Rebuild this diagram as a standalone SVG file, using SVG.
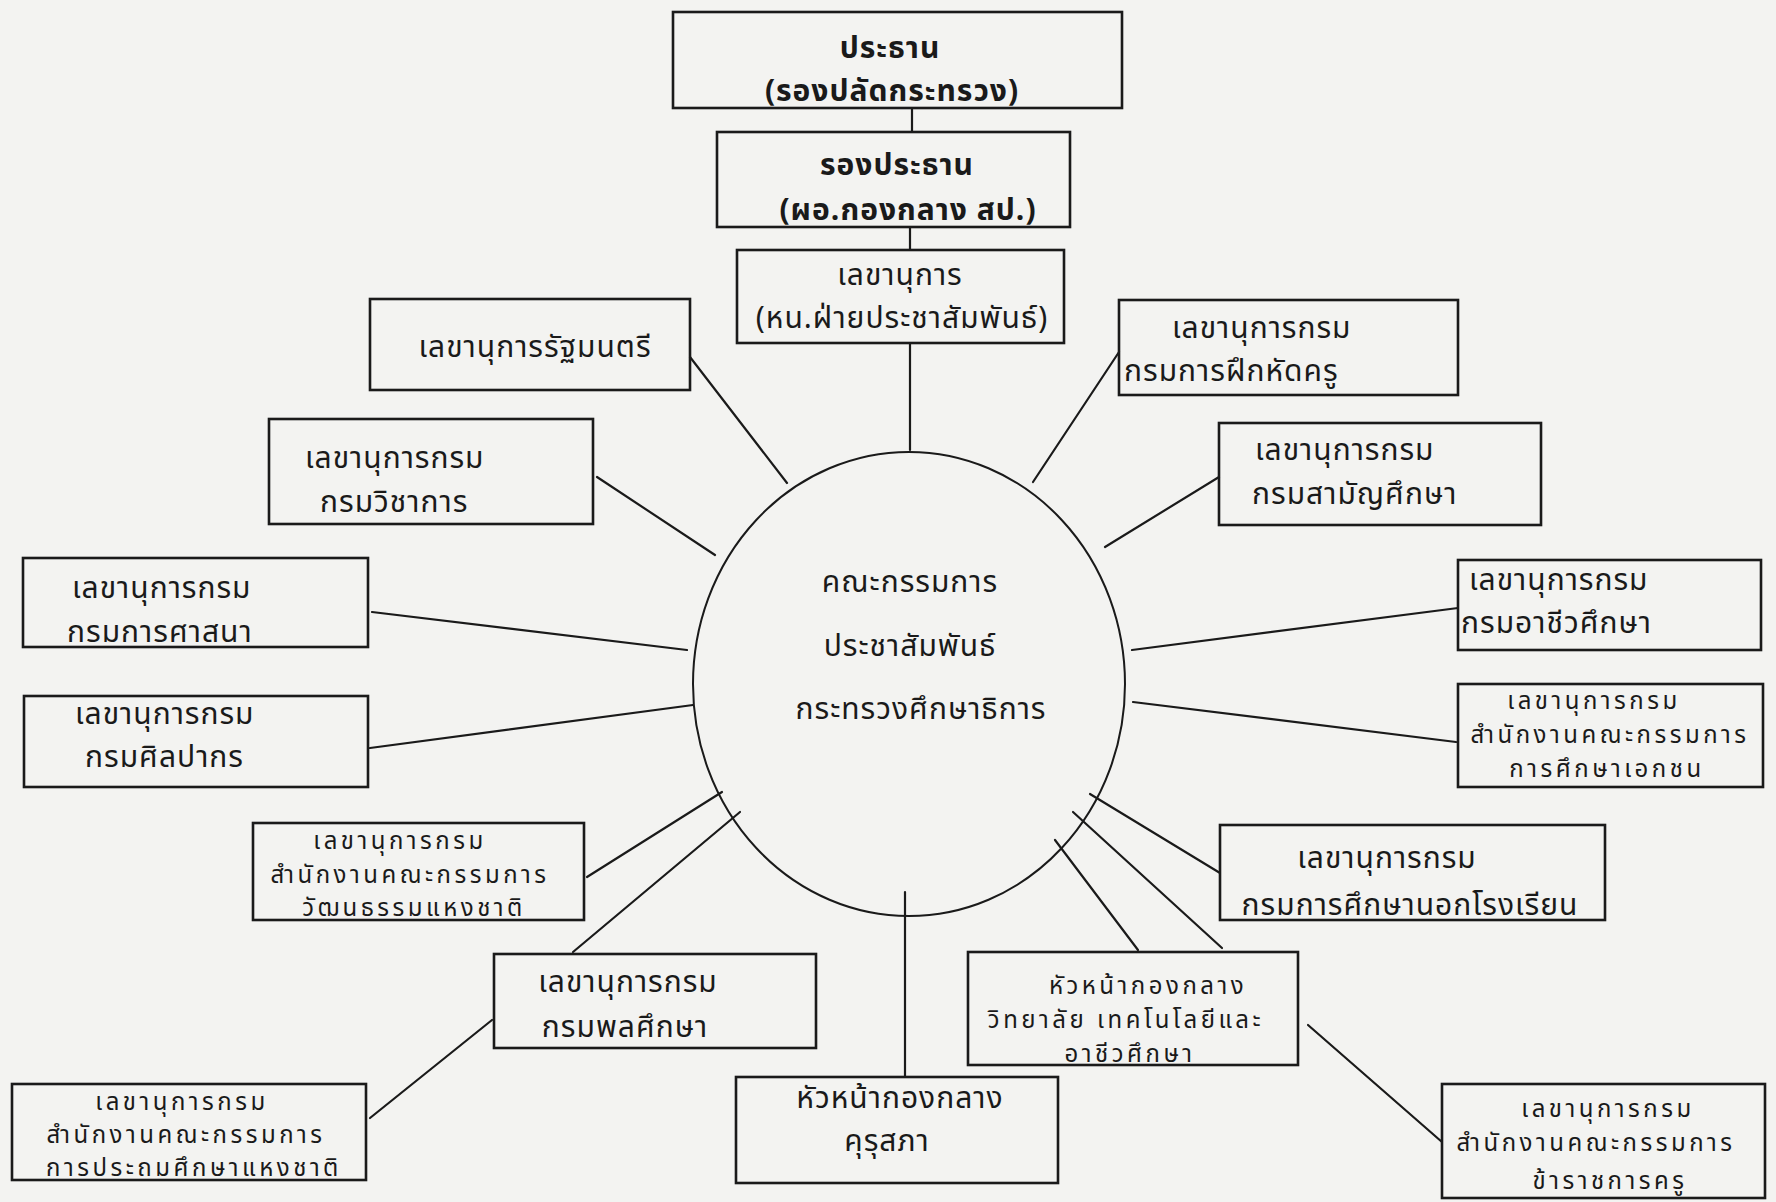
<svg xmlns="http://www.w3.org/2000/svg" width="1776" height="1202" viewBox="0 0 1776 1202">
<style>
.bx{fill:none;stroke:#1a1a1a;stroke-width:2.6}
.t{font-family:"Noto Sans Thai","Noto Sans","DejaVu Sans",sans-serif;font-size:30px;fill:#1a1a1a;letter-spacing:1px}
.s{font-size:24px;letter-spacing:3.5px}
.m{text-anchor:middle}
.b{font-weight:bold}
.cn{stroke:#1a1a1a;stroke-width:2.2;fill:none;stroke-linecap:round}
</style>
<rect x="0" y="0" width="1776" height="1202" fill="#f3f3f1"/>
<g id="connectors">
<line class="cn" x1="912" y1="108" x2="912" y2="132"/>
<line class="cn" x1="910" y1="227" x2="910" y2="250"/>
<line class="cn" x1="910" y1="343" x2="910" y2="450"/>
<line class="cn" x1="690" y1="357" x2="787" y2="483"/>
<line class="cn" x1="597" y1="477" x2="715" y2="555"/>
<line class="cn" x1="372" y1="612" x2="687" y2="650"/>
<line class="cn" x1="370" y1="748" x2="693" y2="705"/>
<line class="cn" x1="587" y1="877" x2="722" y2="792"/>
<line class="cn" x1="573" y1="952" x2="740" y2="812"/>
<line class="cn" x1="370" y1="1118" x2="492" y2="1020"/>
<line class="cn" x1="905" y1="892" x2="905" y2="1077"/>
<line class="cn" x1="1055" y1="840" x2="1138" y2="950"/>
<line class="cn" x1="1073" y1="812" x2="1222" y2="948"/>
<line class="cn" x1="1090" y1="794" x2="1220" y2="873"/>
<line class="cn" x1="1308" y1="1025" x2="1442" y2="1142"/>
<line class="cn" x1="1133" y1="702" x2="1456" y2="742"/>
<line class="cn" x1="1132" y1="650" x2="1458" y2="608"/>
<line class="cn" x1="1105" y1="547" x2="1219" y2="477"/>
<line class="cn" x1="1033" y1="482" x2="1119" y2="352"/>
</g>
<g id="n-center">
<ellipse cx="909" cy="684" rx="216" ry="232" fill="none" stroke="#1a1a1a" stroke-width="2"/>
<text class="t m"><tspan x="910" y="592">คณะกรรมการ</tspan><tspan x="910" y="656">ประชาสัมพันธ์</tspan><tspan x="921" y="719">กระทรวงศึกษาธิการ</tspan></text>
</g>
<g id="n-chair">
<rect class="bx" x="673" y="12" width="449" height="96"/>
<text class="t m b"><tspan x="890" y="58">ประธาน</tspan><tspan x="892" y="101">(รองปลัดกระทรวง)</tspan></text>
</g>
<g id="n-vice">
<rect class="bx" x="717" y="132" width="353" height="95"/>
<text class="t m b"><tspan x="897" y="175">รองประธาน</tspan><tspan x="908" y="220">(ผอ.กองกลาง สป.)</tspan></text>
</g>
<g id="n-secretary">
<rect class="bx" x="737" y="250" width="327" height="93"/>
<text class="t m"><tspan x="900" y="285">เลขานุการ</tspan><tspan x="902" y="328">(หน.ฝ่ายประชาสัมพันธ์)</tspan></text>
</g>
<g id="n-minister">
<rect class="bx" x="370" y="299" width="320" height="91"/>
<text class="t m" x="535" y="357">เลขานุการรัฐมนตรี</text>
</g>
<g id="n-academic">
<rect class="bx" x="269" y="419" width="324" height="105"/>
<text class="t"><tspan x="305" y="468">เลขานุการกรม</tspan><tspan x="320" y="512">กรมวิชาการ</tspan></text>
</g>
<g id="n-religion">
<rect class="bx" x="23" y="558" width="345" height="89"/>
<text class="t"><tspan x="72" y="598">เลขานุการกรม</tspan><tspan x="67" y="642">กรมการศาสนา</tspan></text>
</g>
<g id="n-finearts">
<rect class="bx" x="24" y="696" width="344" height="91"/>
<text class="t"><tspan x="75" y="724">เลขานุการกรม</tspan><tspan x="85" y="767">กรมศิลปากร</tspan></text>
</g>
<g id="n-culture">
<rect class="bx" x="253" y="823" width="331" height="97"/>
<text class="t s m"><tspan x="400" y="849">เลขานุการกรม</tspan><tspan x="410" y="883">สำนักงานคณะกรรมการ</tspan><tspan x="414" y="916">วัฒนธรรมแหงชาติ</tspan></text>
</g>
<g id="n-physical">
<rect class="bx" x="494" y="954" width="322" height="94"/>
<text class="t m"><tspan x="628" y="992">เลขานุการกรม</tspan><tspan x="625" y="1037">กรมพลศึกษา</tspan></text>
</g>
<g id="n-primary">
<rect class="bx" x="12" y="1084" width="354" height="96"/>
<text class="t s m"><tspan x="182" y="1110">เลขานุการกรม</tspan><tspan x="186" y="1143">สำนักงานคณะกรรมการ</tspan><tspan x="194" y="1176">การประถมศึกษาแหงชาติ</tspan></text>
</g>
<g id="n-kurusapha">
<rect class="bx" x="736" y="1077" width="322" height="106"/>
<text class="t m"><tspan x="900" y="1108">หัวหน้ากองกลาง</tspan><tspan x="887" y="1151">คุรุสภา</tspan></text>
</g>
<g id="n-vocational-college">
<rect class="bx" x="968" y="952" width="330" height="113"/>
<text class="t s m"><tspan x="1148" y="994">หัวหน้ากองกลาง</tspan><tspan x="1126" y="1028">วิทยาลัย เทคโนโลยีและ</tspan><tspan x="1130" y="1062">อาชีวศึกษา</tspan></text>
</g>
<g id="n-teachers">
<rect class="bx" x="1442" y="1084" width="323" height="114"/>
<text class="t s m"><tspan x="1608" y="1117">เลขานุการกรม</tspan><tspan x="1596" y="1151">สำนักงานคณะกรรมการ</tspan><tspan x="1610" y="1189">ข้าราชการครู</tspan></text>
</g>
<g id="n-nonformal">
<rect class="bx" x="1220" y="825" width="385" height="95"/>
<text class="t m"><tspan x="1387" y="868">เลขานุการกรม</tspan><tspan x="1410" y="915">กรมการศึกษานอกโรงเรียน</tspan></text>
</g>
<g id="n-private">
<rect class="bx" x="1458" y="684" width="305" height="103"/>
<text class="t s m"><tspan x="1594" y="709">เลขานุการกรม</tspan><tspan x="1610" y="743">สำนักงานคณะกรรมการ</tspan><tspan x="1607" y="777">การศึกษาเอกชน</tspan></text>
</g>
<g id="n-vocational">
<rect class="bx" x="1458" y="560" width="303" height="90"/>
<text class="t"><tspan x="1469" y="590">เลขานุการกรม</tspan><tspan x="1461" y="633">กรมอาชีวศึกษา</tspan></text>
</g>
<g id="n-general">
<rect class="bx" x="1219" y="423" width="322" height="102"/>
<text class="t"><tspan x="1255" y="460">เลขานุการกรม</tspan><tspan x="1252" y="504">กรมสามัญศึกษา</tspan></text>
</g>
<g id="n-teachertraining">
<rect class="bx" x="1119" y="300" width="339" height="95"/>
<text class="t"><tspan x="1172" y="338">เลขานุการกรม</tspan><tspan x="1124" y="381">กรมการฝึกหัดครู</tspan></text>
</g>
</svg>
